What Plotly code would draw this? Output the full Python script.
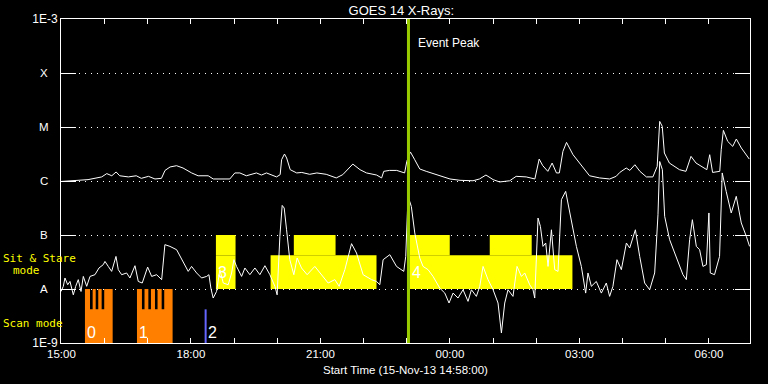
import math
import plotly.graph_objects as go
import pandas as pd

START = pd.Timestamp("2013-11-15 14:58:00")
EVENT_PEAK = pd.Timestamp("2013-11-15 23:02:20")

# GOES 14 long channel (1-8 A): minutes after start, flux in 1e-6 W/m^2
long_min = [1.4, 25, 39, 58, 65, 72, 78, 83, 95, 106, 113, 123, 132, 141, 146, 153, 162, 171, 183, 192, 206, 213,
            222, 236, 243, 250, 259, 273, 280, 287, 301, 306, 308, 312, 315, 320, 329, 336, 347, 357, 370, 384, 393,
            400, 407, 417, 426, 440, 447, 450, 458, 468, 479,
            482, 487, 493, 500, 509, 518, 530, 542, 556, 574, 583, 592, 602, 611, 625, 634,
            648, 660, 666, 671, 678, 684, 690, 694, 699, 704, 713, 727, 736, 750, 764, 773, 778, 787, 792, 799, 806,
            815, 824, 830, 833.5, 837, 840, 847, 861, 870, 877, 884, 894, 899, 903, 907, 917, 919, 922, 928, 935,
            940, 947, 958]
long_flux_e6 = [0.98, 1.01, 1.06, 1.19, 1.37, 1.25, 1.47, 1.25, 1.19, 1.25, 1.12, 1.22, 1.09, 1.12, 1.57, 1.82, 1.92,
                1.74, 1.41, 1.25, 1.25, 1.09,
                1.09, 1.09, 1.41, 1.41, 1.25, 1.41, 1.29, 1.41, 1.19, 1.31, 2.48, 3.16, 2.67, 1.62, 1.41, 1.44, 1.33,
                1.41, 1.33, 1.14, 1.31, 1.67, 2.06, 1.62, 1.41, 1.29, 1.14, 1.51, 1.57, 1.57, 1.41,
                2.31, 3.45, 2.48, 1.67, 1.51, 1.37, 1.22, 1.09, 1.03, 1.01, 1.09, 1.29, 1.06, 0.96, 1.01, 1.22,
                1.19, 1.09, 2.55, 1.92, 1.51, 2.15, 1.41, 1.41, 3.54, 5.19, 3.07, 1.74, 1.25, 1.14, 1.09, 1.22, 1.44,
                1.74, 1.57, 2.0, 1.51, 1.19, 1.19, 1.86, 12.7, 10.3, 3.30, 2.15, 1.62, 1.51, 2.86, 2.15, 1.74, 1.62,
                3.07, 1.44, 1.51, 3.80, 8.66, 5.42, 4.38, 5.99, 4.08, 2.55]

# GOES 14 short channel (0.5-4 A): minutes after start, flux in 1e-8 W/m^2
short_min = [1.4, 4.6, 6.9, 10.7, 13.9, 18.5, 21.8, 25.4, 29.2, 32.4, 37.1, 41.7, 48.6, 54.2, 60.1, 62.5, 67.1, 71.8,
             77.8, 81, 85.7, 92.6, 97.2, 104.2, 108.8, 114.3, 121.8, 127.4, 134.3, 141.3, 145.8, 152.8, 162.1, 169.1,
             178.2, 182.9, 189.9, 196.8, 203.8, 207, 209.7, 212.9, 217.6, 222.2,
             226.9, 233.8, 238.5, 241.7, 245.4, 252.4, 257, 263.9, 270.9, 277.8, 284.8, 291.7, 298.7, 301.8, 305.6,
             308.8, 311.6, 314.9, 319.4, 325, 329.6, 335.7, 343.5, 354.2, 361.1, 372.7, 382, 388, 395.9, 405.2,
             412.1, 421.3, 433, 439.9, 444.5, 449.1, 458.4, 467.7, 477.8,
             480.5, 483.7, 488.3, 493.1, 500, 504.6, 511.6, 518.5, 527.8, 534.8, 540.7, 546.3, 553.2, 560.2, 567.1,
             571.8, 578.7, 583.4, 588, 594.9, 601.9, 608.8, 613.5, 618.1, 622.7, 629.6, 635.2, 641.3,
             645.9, 652.8, 657.4, 659.8, 664.4, 667.7, 671.3, 675.1, 678.3, 683, 687.6, 692.2, 696.9, 702.8, 708.4,
             717.7, 724.6, 730.6, 733.8, 738.5, 745.4, 752.4, 759.3, 763.9, 768.5, 774.1, 780.2, 787.2, 791.8, 799.7,
             805.7, 812.6, 819.6, 826.5, 831.1, 833.5, 837.2, 840.4, 847.3, 856.6, 865.8, 870.5, 875.1, 878.9, 884.4,
             889, 893.6, 898.3, 901.9, 903.8, 909.7, 916.7, 920.4, 925.9, 932.9, 939.9, 946.9, 953.9, 958.4]
short_flux_e8 = [0.90, 1.12, 1.60, 1.20, 1.38, 0.78, 1.12, 1.49, 0.90, 1.71, 1.12, 1.71, 1.84, 2.45, 2.82, 3.24, 2.62,
                 2.12, 4.01, 2.28, 1.84, 1.98, 1.60, 2.70, 1.38, 1.29, 2.55, 1.71, 1.84, 1.49, 6.62, 6.16, 5.34, 3.49,
                 2.12, 2.62, 1.98, 1.60, 1.71, 1.84, 1.04, 0.68, 0.90, 2.28,
                 1.29, 1.20, 1.98, 3.49, 2.62, 1.71, 2.45, 1.84, 2.45, 1.84, 2.70, 1.84, 1.12, 0.78, 9.42, 35.3, 31.6,
                 12.5, 3.49, 1.84, 3.75, 2.45, 1.84, 2.62, 1.98, 1.29, 1.49, 1.12, 2.28, 6.91, 4.64, 1.84, 1.49, 1.38,
                 1.20, 3.49, 4.32, 2.62, 2.12,
                 4.01, 52, 33.8, 10.9, 3.75, 2.62, 2.28, 1.71, 1.04, 0.84, 0.55, 0.84, 0.68, 0.97, 0.59, 0.97, 0.73,
                 1.12, 2.62, 1.49, 0.97, 0.55, 0.153, 0.55, 0.97, 0.73, 2.62, 1.71,
                 1.98, 1.20, 0.97, 0.68, 20.6, 14.4, 6.16, 7.1, 2.62, 12.5, 2.28, 2.12, 45.1, 64.3, 25.6, 6.16, 2.62,
                 0.84, 1.98, 1.12, 1.38, 0.84, 1.29, 0.73, 1.12, 3.49, 2.28, 7.1, 5.75, 12.5, 4.01, 1.29, 0.97, 1.98,
                 23.7, 230, 162, 22.2, 8.19, 4.01, 1.84, 1.49, 8.19, 19.2, 6.16, 5.34, 2.62, 2.82, 25.6, 1.98, 1.84,
                 4.01, 141, 64.3, 25.6, 52, 16.7, 9.42, 6.16]

# IRIS observations (minutes after start)
scan_labels = ["0", "1"]
scan_start = [34.7, 107.0]
scan_end = [73.2, 156.5]
scan_gaps = [[(41.7, 45.4), (49.6, 53.2), (57.9, 61.5)],
             [(113.9, 117.5), (122.8, 126.4), (132.0, 135.6), (141.3, 144.9)]]
single_scan_label = "2"
single_scan_min = 202.4

sit_labels = ["3", "4"]
sit_label_min = [216.7, 486.2]
sit_lower = [(216.7, 244.0), (292.7, 439.9), (486.2, 712.2)]
sit_upper = [(216.7, 244.0), (325.0, 383.0), (486.2, 541.7), (597.3, 655.6)]

# flux levels
LEV_1E9, LEV_A, LEV_B = 1e-9, 1e-8, 1e-7
SCAN_MID, SIT_MID = 4.2e-9, 4.2e-8
class_vals = [1e-8, 1e-7, 1e-6, 1e-5, 1e-4]
class_names = ["A", "B", "C", "M", "X"]


def T(m):
    return START + pd.to_timedelta(m, unit="m")


fig = go.Figure()

YELLOW = "#ffff00"
ORANGE = "#ff8000"

# sit & stare blocks
for lo, hi, rows in [(LEV_A, SIT_MID, sit_lower), (SIT_MID, LEV_B, sit_upper)]:
    for a, b in rows:
        fig.add_trace(go.Scatter(x=[T(a), T(a), T(b), T(b), T(a)], y=[lo, hi, hi, lo, lo],
                                 mode="lines", fill="toself", fillcolor=YELLOW,
                                 line=dict(color=YELLOW, width=0), hoverinfo="skip", showlegend=False))

# scan blocks (comb shape)
for s, e, gaps in zip(scan_start, scan_end, scan_gaps):
    xs = [T(s), T(s)]
    ys = [LEV_1E9, LEV_A]
    for g0, g1 in gaps:
        xs += [T(g0), T(g0), T(g1), T(g1)]
        ys += [LEV_A, SCAN_MID, SCAN_MID, LEV_A]
    xs += [T(e), T(e), T(s)]
    ys += [LEV_A, LEV_1E9, LEV_1E9]
    fig.add_trace(go.Scatter(x=xs, y=ys, mode="lines", fill="toself", fillcolor=ORANGE,
                             line=dict(color=ORANGE, width=0), hoverinfo="skip", showlegend=False))

fig.add_trace(go.Scatter(x=[T(single_scan_min), T(single_scan_min)], y=[LEV_1E9, SCAN_MID], mode="lines",
                         line=dict(color="#6464ff", width=2), hoverinfo="skip", showlegend=False))

# GOES curves
fig.add_trace(go.Scatter(x=T(long_min), y=[v * 1e-6 for v in long_flux_e6], mode="lines",
                         line=dict(color="white", width=1), showlegend=False))
fig.add_trace(go.Scatter(x=T(short_min), y=[v * 1e-8 for v in short_flux_e8], mode="lines",
                         line=dict(color="white", width=1), showlegend=False))

# event peak
fig.add_trace(go.Scatter(x=[EVENT_PEAK, EVENT_PEAK], y=[1e-9, 1e-3], mode="lines",
                         line=dict(color="#99cc00", width=3), hoverinfo="skip", showlegend=False))

ann = []
lab_font = dict(family="Liberation Sans", size=16, color="white")
for lab, s in zip(scan_labels, scan_start):
    ann.append(dict(x=T(s), y=-8.8, xref="x", yref="y", text=lab, showarrow=False, xanchor="left",
                    yanchor="middle", font=lab_font))
ann.append(dict(x=T(single_scan_min), y=-8.8, xref="x", yref="y", text=single_scan_label, showarrow=False,
                xanchor="left", yanchor="middle", font=lab_font))
for lab, s in zip(sit_labels, sit_label_min):
    ann.append(dict(x=T(s), y=-7.69, xref="x", yref="y", text=lab, showarrow=False, xanchor="left",
                    yanchor="middle", font=lab_font))

for v, n in zip(class_vals, class_names):
    ann.append(dict(x=0, y=math.log10(v), xref="paper", yref="y", text=n, showarrow=False, xanchor="center",
                    yanchor="middle", xshift=-17, font=dict(family="Liberation Sans", size=11.5, color="white")))

mono = dict(family="DejaVu Sans Mono", size=11, color=YELLOW)
ann.append(dict(x=0, y=0.262, xref="paper", yref="paper", text="Sit & Stare", showarrow=False, xanchor="left",
                yanchor="middle", xshift=-60, font=mono))
ann.append(dict(x=0, y=0.225, xref="paper", yref="paper", text="mode", showarrow=False, xanchor="left",
                yanchor="middle", xshift=-50, font=mono))
ann.append(dict(x=0, y=0.06, xref="paper", yref="paper", text="Scan mode", showarrow=False, xanchor="left",
                yanchor="middle", xshift=-60, font=mono))
ann.append(dict(x=EVENT_PEAK, y=0.927, xref="x", yref="paper", text="Event Peak", showarrow=False,
                xanchor="left", yanchor="middle", xshift=8,
                font=dict(family="Liberation Sans", size=12, color="white")))
ann.append(dict(x=0.5, y=0, xref="paper", yref="paper", text="Start Time (15-Nov-13 14:58:00)", showarrow=False,
                xanchor="center", yanchor="middle", yshift=-27,
                font=dict(family="Liberation Sans", size=11.5, color="white")))

hours = pd.date_range("2013-11-15 15:00", "2013-11-16 06:00", freq="1h")
htext = [h.strftime("%H:%M") if h.hour % 3 == 0 else "" for h in hours]

fig.update_layout(
    width=768, height=384,
    paper_bgcolor="black", plot_bgcolor="black",
    margin=dict(l=61, r=17.5, t=19.3, b=40.7, autoexpand=False),
    title=dict(text="GOES 14 X-Rays:", x=0.494, xref="paper", y=1 - 10 / 384, yref="container",
               xanchor="center", yanchor="middle", font=dict(family="Liberation Sans", size=13, color="white")),
    xaxis=dict(type="date", range=[T(1.4), T(959)], tickvals=list(hours), ticktext=htext,
               ticks="inside", ticklen=5, tickcolor="white", tickwidth=1,
               showline=True, linecolor="white", linewidth=1, mirror="ticks",
               showgrid=False, zeroline=False, automargin=False,
               tickfont=dict(family="Liberation Sans", size=11.5, color="white")),
    yaxis=dict(type="log", range=[-9, -3],
               tickvals=[1e-9, 1e-8, 1e-7, 1e-6, 1e-5, 1e-4, 1e-3],
               ticktext=["1E-9", "", "", "", "", "", "1E-3"],
               ticks="inside", ticklen=15, tickcolor="white", tickwidth=1,
               showline=True, linecolor="white", linewidth=1, mirror="ticks",
               showgrid=True, gridcolor="white", gridwidth=1, griddash="1px,5px", zeroline=False,
               automargin=False,
               tickfont=dict(family="Liberation Sans", size=12, color="white")),
    annotations=ann,
    hovermode=False,
)

fig.write_html("out.html", config={"displayModeBar": False},
               post_script="document.body.style.margin='0';document.body.style.background='black';")
